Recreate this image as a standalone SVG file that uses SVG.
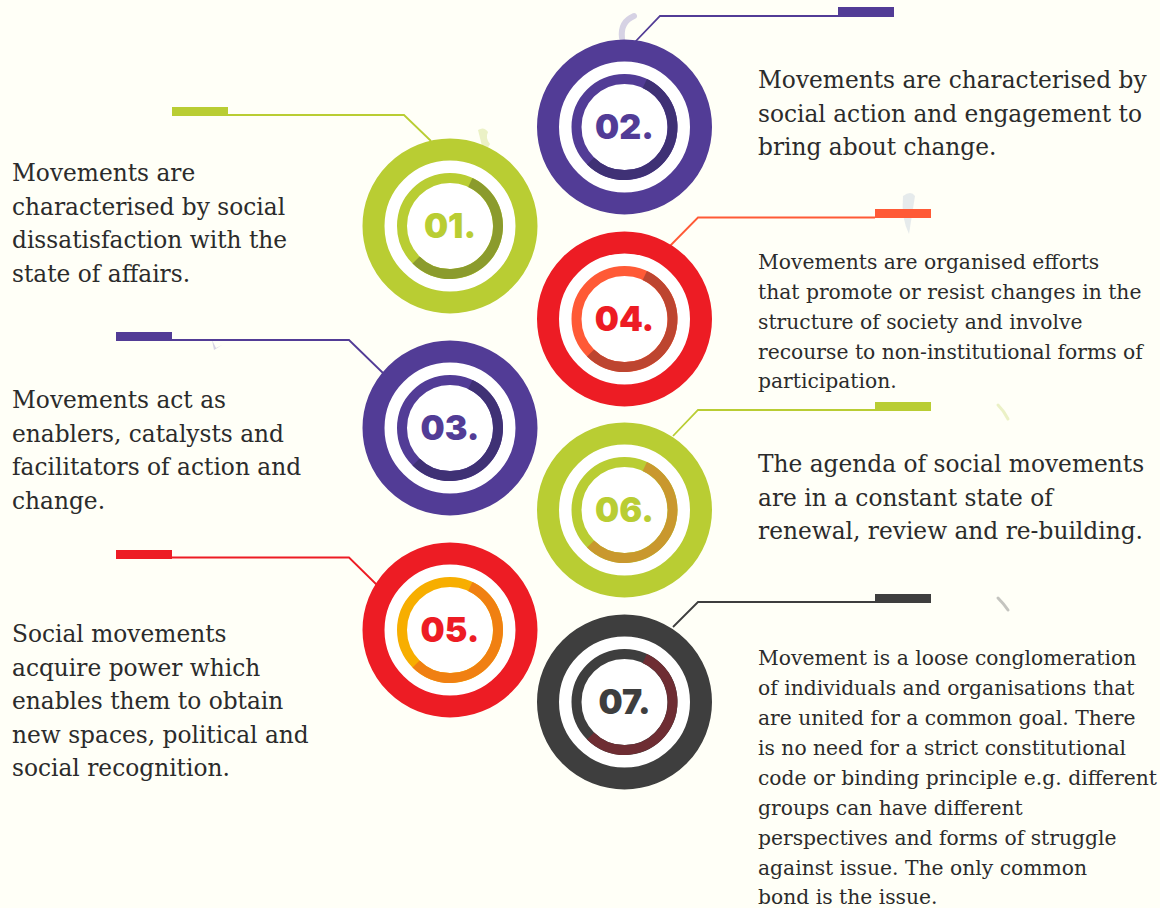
<svg xmlns="http://www.w3.org/2000/svg" xmlns:xlink="http://www.w3.org/1999/xlink" width="1160" height="908" viewBox="0 0 1160 908">
<style>
.txt{font-family:"DejaVu Serif","Liberation Serif",serif;fill:#2b2b2b;}
.big{font-size:23.3px;}
.small{font-size:20.3px;}
.num{font-family:Inter,"Open Sans",sans-serif;font-weight:900;font-size:34px;text-anchor:middle;}
.conn{fill:none;stroke-width:1.8;}
</style>
<defs>
<path id="arc" d="M20.29,-43.5 A48,48 0 1 1 -33.94,33.94" fill="none" stroke-width="10"/>
</defs>
<rect width="1160" height="908" fill="#fffff7"/>
<g id="decor" opacity="0.35">
<path d="M622,38 Q620,22 634,16" fill="none" stroke="#8a7fc0" stroke-width="6" stroke-linecap="round"/>
<path d="M478,130 q6,-4 10,2 q-3,6 2,12 l-6,10 z" fill="#c5d66a"/>
<path d="M903,196 q8,-6 12,0 l-6,38 q-8,-16 -6,-38z" fill="#b7c7d6"/>
<path d="M212,340 l4,8 l6,-3 l-8,5z" fill="#8a7fc0"/>
<path d="M998,405 q6,6 10,14" fill="none" stroke="#c5d66a" stroke-width="3" stroke-linecap="round"/>
<path d="M998,598 q6,6 10,12" fill="none" stroke="#555" stroke-width="3" stroke-linecap="round"/>
</g>
<g id="connectors">
<rect x="172" y="107" width="56" height="9" fill="#b9cd33"/>
<polyline class="conn" stroke="#b9cd33" points="228,115 404,115 431,141"/>
<rect x="838" y="7" width="56" height="10" fill="#523c96"/>
<polyline class="conn" stroke="#523c96" points="838,16 660,16 635,42"/>
<rect x="116" y="332" width="56" height="9" fill="#523c96"/>
<polyline class="conn" stroke="#523c96" points="172,340 349,340 383,373"/>
<rect x="875" y="209" width="56" height="9" fill="#ff5a36"/>
<polyline class="conn" stroke="#ff5a36" points="875,217.5 698,217.5 663,253"/>
<rect x="116" y="550" width="56" height="9" fill="#ed1c24"/>
<polyline class="conn" stroke="#ed1c24" points="172,557.5 349,557.5 377,585"/>
<rect x="875" y="402" width="56" height="9" fill="#b9cd33"/>
<polyline class="conn" stroke="#b9cd33" points="875,410 698,410 673,436"/>
<rect x="875" y="594" width="56" height="9" fill="#3e3e3e"/>
<polyline class="conn" stroke="#3e3e3e" points="875,602 698,602 673,627"/>
</g>
<g id="node01" transform="translate(450,226)">
<circle r="76.5" fill="#fff" stroke="#b9cd33" stroke-width="22"/>
<circle r="48" fill="none" stroke="#b9cd33" stroke-width="10"/>
<use xlink:href="#arc" stroke="#8b9b2d"/>
<text class="num" y="12" fill="#b9cd33">01.</text>
</g>
<g id="node02" transform="translate(624.5,127)">
<circle r="76.5" fill="#fff" stroke="#523c96" stroke-width="22"/>
<circle r="48" fill="none" stroke="#523c96" stroke-width="10"/>
<use xlink:href="#arc" stroke="#3f3175"/>
<text class="num" y="12" fill="#523c96">02.</text>
</g>
<g id="node03" transform="translate(450,428)">
<circle r="76.5" fill="#fff" stroke="#523c96" stroke-width="22"/>
<circle r="48" fill="none" stroke="#523c96" stroke-width="10"/>
<use xlink:href="#arc" stroke="#3f3175"/>
<text class="num" y="12" fill="#523c96">03.</text>
</g>
<g id="node04" transform="translate(624.5,319)">
<circle r="76.5" fill="#fff" stroke="#ed1c24" stroke-width="22"/>
<circle r="48" fill="none" stroke="#ff5a36" stroke-width="10"/>
<use xlink:href="#arc" stroke="#bd4530"/>
<text class="num" y="12" fill="#ed1c24">04.</text>
</g>
<g id="node05" transform="translate(450,630)">
<circle r="76.5" fill="#fff" stroke="#ed1c24" stroke-width="22"/>
<circle r="48" fill="none" stroke="#f7ae00" stroke-width="10"/>
<use xlink:href="#arc" stroke="#f08012"/>
<text class="num" y="12" fill="#ed1c24">05.</text>
</g>
<g id="node06" transform="translate(624.5,510)">
<circle r="76.5" fill="#fff" stroke="#b9cd33" stroke-width="22"/>
<circle r="48" fill="none" stroke="#b9cd33" stroke-width="10"/>
<use xlink:href="#arc" stroke="#c9982e"/>
<text class="num" y="12" fill="#b9cd33">06.</text>
</g>
<g id="node07" transform="translate(624.5,702)">
<circle r="76.5" fill="#fff" stroke="#3e3e3e" stroke-width="22"/>
<circle r="48" fill="none" stroke="#3e3e3e" stroke-width="10"/>
<use xlink:href="#arc" stroke="#6e2d33"/>
<text class="num" y="12" fill="#3e3e3e">07.</text>
</g>
<g id="text01" class="txt big">
<text x="12" y="181">Movements are</text>
<text x="12" y="214.5">characterised by social</text>
<text x="12" y="248">dissatisfaction with the</text>
<text x="12" y="281.5">state of affairs.</text>
</g>
<g id="text02" class="txt big">
<text x="758" y="88">Movements are characterised by</text>
<text x="758" y="121.5">social action and engagement to</text>
<text x="758" y="155">bring about change.</text>
</g>
<g id="text03" class="txt big">
<text x="12" y="408">Movements act as</text>
<text x="12" y="441.5">enablers, catalysts and</text>
<text x="12" y="475">facilitators of action and</text>
<text x="12" y="508.5">change.</text>
</g>
<g id="text04" class="txt small">
<text x="758" y="269">Movements are organised efforts</text>
<text x="758" y="299">that promote or resist changes in the</text>
<text x="758" y="329">structure of society and involve</text>
<text x="758" y="358.5">recourse to non-institutional forms of</text>
<text x="758" y="388">participation.</text>
</g>
<g id="text05" class="txt big">
<text x="12" y="642">Social movements</text>
<text x="12" y="675.5">acquire power which</text>
<text x="12" y="709">enables them to obtain</text>
<text x="12" y="742.5">new spaces, political and</text>
<text x="12" y="776">social recognition.</text>
</g>
<g id="text06" class="txt big">
<text x="758" y="472">The agenda of social movements</text>
<text x="758" y="505.5">are in a constant state of</text>
<text x="758" y="539">renewal, review and re-building.</text>
</g>
<g id="text07" class="txt small">
<text x="758" y="665">Movement is a loose conglomeration</text>
<text x="758" y="695">of individuals and organisations that</text>
<text x="758" y="725">are united for a common goal. There</text>
<text x="758" y="755">is no need for a strict constitutional</text>
<text x="758" y="785">code or binding principle e.g. different</text>
<text x="758" y="815">groups can have different</text>
<text x="758" y="845">perspectives and forms of struggle</text>
<text x="758" y="874.5">against issue. The only common</text>
<text x="758" y="904">bond is the issue.</text>
</g>
</svg>
